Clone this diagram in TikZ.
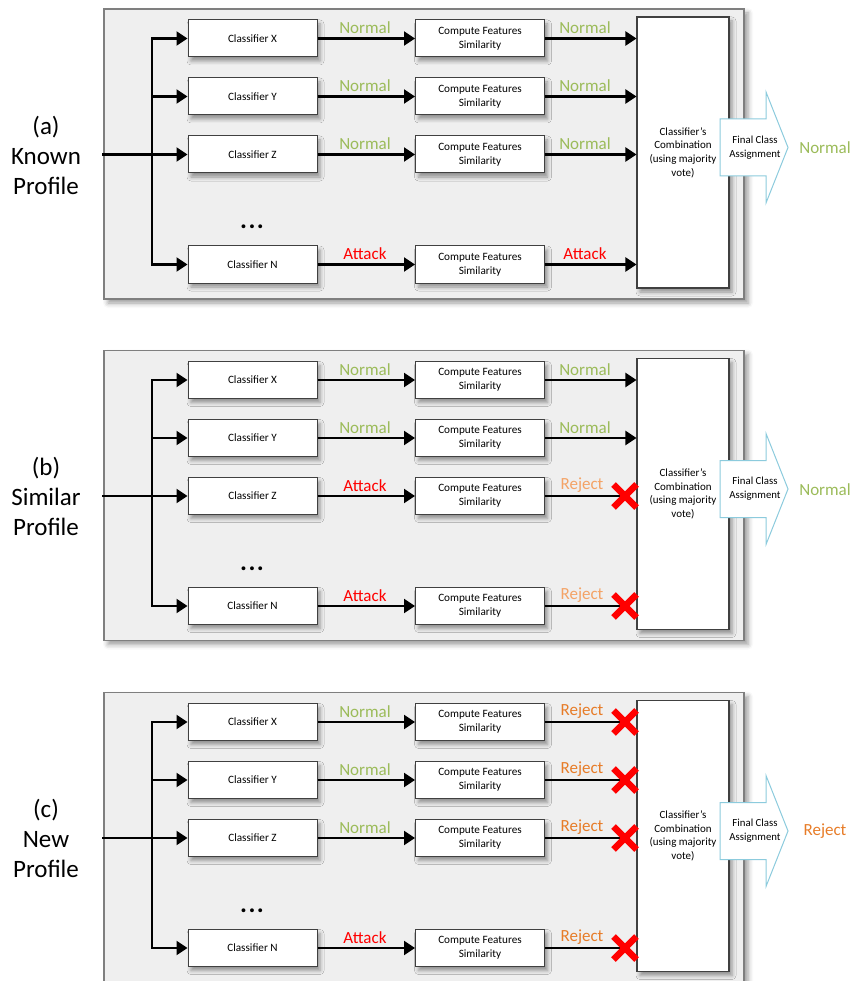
\documentclass[tikz,border=0pt]{standalone}
\usepackage{fontspec}
\setmainfont{Carlito}
\usetikzlibrary{arrows.meta,shadows.blur}

\definecolor{panelfill}{HTML}{EFEFEF}
\definecolor{panelline}{HTML}{7F7F7F}
\definecolor{boxline}{HTML}{404040}
\definecolor{okgreen}{HTML}{9BBB59}
\definecolor{attackred}{HTML}{FF0000}
\definecolor{rejlight}{HTML}{F4A366}
\definecolor{rejdark}{HTML}{E77C28}
\definecolor{assignline}{HTML}{8CCBDD}

\tikzset{
  panel/.style={fill=panelfill, draw=panelline, line width=1.1pt,
    minimum width=640pt, minimum height=290pt, inner sep=0pt,
    blur shadow={shadow xshift=4pt, shadow yshift=-4pt, shadow blur radius=5pt, shadow opacity=40}},
  procbox/.style={draw=boxline, fill=white, line width=1pt,
    minimum width=129pt, minimum height=37pt, inner sep=0pt, align=center,
    font=\fontsize{11.2}{13.6}\selectfont,
    blur shadow={shadow xshift=3pt, shadow yshift=-4pt, shadow blur radius=4pt, shadow opacity=40}},
  combbox/.style={draw=boxline, fill=white, line width=1.1pt,
    minimum width=92pt, minimum height=271pt, inner sep=0pt, align=center,
    font=\fontsize{11}{13.7}\selectfont,
    blur shadow={shadow xshift=3pt, shadow yshift=-4pt, shadow blur radius=4pt, shadow opacity=40}},
  assign/.style={draw=assignline, fill=white, line width=1pt},
  smalltext/.style={align=center, inner sep=0pt, font=\fontsize{10.8}{14}\selectfont},
  plain/.style={draw=black, line width=2.2pt},
  flow/.style={plain, -{Triangle[length=11pt,width=14pt]}},
  fork/.style={plain, {Triangle[length=11pt,width=14pt]}-{Triangle[length=11pt,width=14pt]}},
  vote/.style={anchor=base, inner sep=0pt, font=\fontsize{17}{17}\selectfont},
  outlabel/.style={inner sep=0pt, font=\fontsize{17}{17}\selectfont},
  profile/.style={align=center, inner sep=0pt, font=\fontsize{25}{30}\selectfont},
  ellipsis/.style={inner sep=0pt, font=\fontsize{26}{26}\selectfont\bfseries},
  rejectmark/.style={draw=red, line width=6.5pt},
}

% frame, name, combination box and ellipsis of one panel
\newcommand\panelframe[2]{%
  \node[panel] (#1frame) at (424,154) {};
  \node[profile] (#1name) at (46,155) {#2};
  \node[combbox] (#1comb) at (683,152.5) {Classifier’s\\Combination\\(using majority\\vote)};
  \node[ellipsis] (#1dots) at (252,227) {.\kern1.4pt.\kern1.4pt.};
  \coordinate (#1in) at (102,154.5);
  \coordinate (#1fork) at (152,154.5);
}

% one classifier row: prefix, row, y, colour and text of both labels, ok/rej
\newcommand\vrow[8]{%
  \node[procbox] (#1cls#2) at (252.5,#3) {Classifier #2};
  \node[procbox] (#1cmp#2) at (480,#3) {Compute Features\\Similarity};
  \draw[flow] (#1cls#2) -- (#1cmp#2);
  \node[vote, text=#4] (#1va#2) at (365,#3-5) {#5};
  \def\rowmode{#8}\def\rejmode{rej}%
  \ifx\rowmode\rejmode
    \node[vote, text=#6] (#1vb#2) at (582,#3-7) {#7};
    \coordinate (#1cut#2) at (625,#3);
    \draw[plain] (#1cmp#2.east) -- (#1cut#2);
    \draw[rejectmark] (#1cut#2) ++(-11.5,-11.5) -- ++(23,23)
                      (#1cut#2) ++(-11.5,11.5) -- ++(23,-23);
  \else
    \node[vote, text=#6] (#1vb#2) at (585,#3-5) {#7};
    \draw[flow] (#1cmp#2.east) -- (#1cmp#2.east -| #1comb.west);
  \fi
}

% input fan-out and final assignment arrow of one panel
\newcommand\panelout[3]{%
  \draw[fork] (#1clsX.west) -| (#1clsN.west -| #1fork) -- (#1clsN.west);
  \draw[flow] (#1clsY.west -| #1fork) -- (#1clsY.west);
  \draw[flow] (#1in) -- (#1clsZ.west);
  \draw[assign] (720,119) -- (766,119) -- (766,92) -- (788,147.5)
     -- (766,203) -- (766,176) -- (720,176) -- cycle;
  \node[smalltext] (#1final) at (755,147.5) {Final Class\\Assignment};
  \node[outlabel, text=#2] (#1result) at (825,148) {#3};
}

\begin{document}
\begin{tikzpicture}[x=1pt, y=-1pt]
\useasboundingbox (0,0) rectangle (850,981);

% (a) known profile
\begin{scope}
  \panelframe{a}{(a)\\Known\\Profile}
  \vrow{a}{X}{38.5}{okgreen}{Normal}{okgreen}{Normal}{ok}
  \vrow{a}{Y}{96.5}{okgreen}{Normal}{okgreen}{Normal}{ok}
  \vrow{a}{Z}{154.5}{okgreen}{Normal}{okgreen}{Normal}{ok}
  \vrow{a}{N}{264.5}{attackred}{Attack}{attackred}{Attack}{ok}
  \panelout{a}{okgreen}{Normal}
\end{scope}

% (b) similar profile
\begin{scope}[shift={(0,341.5)}]
  \panelframe{b}{(b)\\Similar\\Profile}
  \vrow{b}{X}{38.5}{okgreen}{Normal}{okgreen}{Normal}{ok}
  \vrow{b}{Y}{96.5}{okgreen}{Normal}{okgreen}{Normal}{ok}
  \vrow{b}{Z}{154.5}{attackred}{Attack}{rejlight}{Reject}{rej}
  \vrow{b}{N}{264.5}{attackred}{Attack}{rejlight}{Reject}{rej}
  \panelout{b}{okgreen}{Normal}
\end{scope}

% (c) new profile
\begin{scope}[shift={(0,683.5)}]
  \panelframe{c}{(c)\\New\\Profile}
  \vrow{c}{X}{38.5}{okgreen}{Normal}{rejdark}{Reject}{rej}
  \vrow{c}{Y}{96.5}{okgreen}{Normal}{rejdark}{Reject}{rej}
  \vrow{c}{Z}{154.5}{okgreen}{Normal}{rejdark}{Reject}{rej}
  \vrow{c}{N}{264.5}{attackred}{Attack}{rejdark}{Reject}{rej}
  \panelout{c}{rejdark}{Reject}
\end{scope}
\end{tikzpicture}
\end{document}
